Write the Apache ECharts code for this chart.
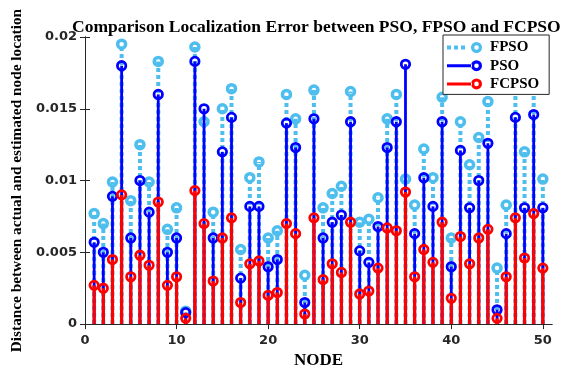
<!DOCTYPE html>
<html>
<head>
<meta charset="utf-8">
<script src="https://cdn.jsdelivr.net/npm/echarts@6/dist/echarts.min.js"></script>
<style>
  html, body { margin: 0; padding: 0; background: #fff; }
  #chart { width: 563px; height: 374px; }
</style>
</head>
<body>
<div id="chart"></div>
<script>
  // node index 1..50
  const nodes = [1, 2, 3, 4, 5, 6, 7, 8, 9, 10, 11, 12, 13, 14, 15, 16, 17, 18, 19, 20,
    21, 22, 23, 24, 25, 26, 27, 28, 29, 30, 31, 32, 33, 34, 35, 36, 37, 38, 39, 40,
    41, 42, 43, 44, 45, 46, 47, 48, 49, 50]

  const fpso = [0.0077, 0.0070, 0.0099, 0.0195, 0.0086, 0.0125, 0.0099, 0.0183, 0.0066, 0.0081,
    0.0009, 0.0193, 0.0141, 0.0078, 0.0150, 0.0164, 0.0052, 0.0102, 0.0113, 0.0060,
    0.0065, 0.0160, 0.0143, 0.0034, 0.0163, 0.0081, 0.0091, 0.0096, 0.0162, 0.0071,
    0.0073, 0.0088, 0.0143, 0.0160, 0.0101, 0.0083, 0.0122, 0.0102, 0.0158, 0.0060,
    0.0141, 0.0111, 0.0130, 0.0155, 0.0039, 0.0083, 0.0166, 0.0120, 0.0166, 0.0101]

  const pso = [0.0057, 0.0050, 0.0089, 0.0180, 0.0060, 0.0100, 0.0078, 0.0160, 0.0050, 0.0060,
    0.0008, 0.0183, 0.0150, 0.0060, 0.0120, 0.0144, 0.0032, 0.0082, 0.0082, 0.0040,
    0.0045, 0.0140, 0.0123, 0.0015, 0.0143, 0.0060, 0.0071, 0.0076, 0.0141, 0.0051,
    0.0043, 0.0068, 0.0123, 0.0141, 0.0181, 0.0063, 0.0102, 0.0082, 0.0141, 0.0040,
    0.0121, 0.0081, 0.0100, 0.0126, 0.0010, 0.0063, 0.0144, 0.0081, 0.0146, 0.0081]

  const fcpso = [0.0027, 0.0025, 0.0045, 0.0090, 0.0033, 0.0048, 0.0041, 0.0085, 0.0027, 0.0033,
    0.0004, 0.0093, 0.0070, 0.0030, 0.0060, 0.0074, 0.0015, 0.0042, 0.0044, 0.0020,
    0.0022, 0.0070, 0.0063, 0.0007, 0.0074, 0.0031, 0.0042, 0.0036, 0.0071, 0.0021,
    0.0023, 0.0039, 0.0067, 0.0065, 0.0092, 0.0033, 0.0052, 0.0043, 0.0071, 0.0018,
    0.0061, 0.0042, 0.0060, 0.0066, 0.0004, 0.0033, 0.0074, 0.0046, 0.0077, 0.0039]

  const xTicks = [0, 10, 20, 30, 40, 50]

  const chart = echarts.init(document.getElementById('chart'))

  const serif = 'Liberation Serif, Times New Roman, serif'
  const sans = 'DejaVu Sans, Arial, sans-serif'
  const axisColor = '#262626'

  // stem: line from 0 up to the value, ring on top
  function stem(color, lineWidth, dash, r, ringWidth) {
    return function (params, api) {
      const x = api.value(0)
      const top = api.coord([x, api.value(1)])
      const base = api.coord([x, 0])
      return {
        type: 'group',
        children: [
          {
            type: 'line',
            shape: { x1: base[0], y1: base[1], x2: top[0], y2: top[1] },
            style: { stroke: color, lineWidth: lineWidth, lineDash: dash }
          },
          {
            type: 'circle',
            shape: { cx: top[0], cy: top[1], r: r },
            style: { fill: 'none', stroke: color, lineWidth: ringWidth }
          }
        ]
      }
    }
  }

  function pairs(vals) {
    return nodes.map((n, i) => [n, vals[i]])
  }

  const ring = 'M24 5.5 A5.5 5.5 0 1 0 35 5.5 A5.5 5.5 0 1 0 24 5.5 Z M27.2 5.5 A2.3 2.3 0 1 1 31.8 5.5 A2.3 2.3 0 1 1 27.2 5.5 Z'
  const iconDotted = 'path://M0 3.5 h4 v4 h-4 Z M7 3.5 h4 v4 h-4 Z M14 3.5 h4 v4 h-4 Z ' + ring
  const iconSolid = 'path://M0 4 L25 4 L25 7 L0 7 Z ' + ring

  const option = {
    animation: false,
    title: {
      text: 'Comparison Localization Error between PSO, FPSO and FCPSO',
      left: 72,
      top: 18,
      padding: 0,
      textStyle: { fontFamily: serif, fontWeight: 'bold', fontSize: 17.5, color: '#000' }
    },
    legend: {
      orient: 'vertical',
      left: 443,
      top: 35,
      padding: [5, 10, 3, 4],
      itemGap: 3.2,
      itemWidth: 35,
      itemHeight: 11,
      borderColor: axisColor,
      borderWidth: 1,
      borderRadius: 0,
      backgroundColor: '#fff',
      itemStyle: { borderWidth: 0 },
      textStyle: { fontFamily: serif, fontWeight: 'bold', fontSize: 15, lineHeight: 14.5, color: '#000', padding: [0, 0, 0, 3] },
      data: [
        { name: 'FPSO', icon: iconDotted },
        { name: 'PSO', icon: iconSolid },
        { name: 'FCPSO', icon: iconSolid }
      ]
    },
    grid: { left: 85, right: 11, top: 37, bottom: 41 },
    xAxis: [
      {
        type: 'value',
        min: 0,
        max: 51,
        interval: 10,
        name: 'NODE',
        nameLocation: 'middle',
        nameGap: 26,
        nameTextStyle: { fontFamily: serif, fontWeight: 'bold', fontSize: 17, color: '#000' },
        axisLine: { show: true, lineStyle: { color: axisColor, width: 1 } },
        axisTick: { show: true, inside: true, length: 5, customValues: xTicks, lineStyle: { color: axisColor } },
        axisLabel: { customValues: xTicks, margin: 10, fontFamily: sans, fontWeight: 'bold', fontSize: 13, color: axisColor },
        splitLine: { show: false }
      },
      {
        type: 'value',
        position: 'top',
        min: 0,
        max: 51,
        interval: 10,
        axisLine: { show: true, lineStyle: { color: axisColor, width: 1 } },
        axisTick: { show: true, inside: true, length: 5, customValues: xTicks, lineStyle: { color: axisColor } },
        axisLabel: { show: false },
        splitLine: { show: false }
      }
    ],
    yAxis: [
      {
        type: 'value',
        min: 0,
        max: 0.02,
        interval: 0.005,
        name: 'Distance between actual and estimated node location',
        nameLocation: 'middle',
        nameGap: 55,
        nameTextStyle: { fontFamily: serif, fontWeight: 'bold', fontSize: 15.3, color: '#000' },
        axisLine: { show: true, lineStyle: { color: axisColor, width: 1 } },
        axisTick: { show: true, inside: true, length: 5, lineStyle: { color: axisColor } },
        axisLabel: { margin: 8, fontFamily: sans, fontWeight: 'bold', fontSize: 13, color: axisColor },
        splitLine: { show: false }
      },
      {
        type: 'value',
        position: 'right',
        min: 0,
        max: 0.02,
        interval: 0.005,
        axisLine: { show: true, lineStyle: { color: axisColor, width: 1 } },
        axisTick: { show: true, inside: true, length: 5, lineStyle: { color: axisColor } },
        axisLabel: { show: false },
        splitLine: { show: false }
      }
    ],
    series: [
      {
        name: 'FPSO',
        type: 'custom',
        itemStyle: { color: '#4DBEEE' },
        renderItem: stem('#4DBEEE', 4, [4, 3], 4, 3.5),
        encode: { x: 0, y: 1 },
        clip: true,
        data: pairs(fpso)
      },
      {
        name: 'PSO',
        type: 'custom',
        itemStyle: { color: '#0000FF' },
        renderItem: stem('#0000FF', 2.8, null, 4.2, 2.8),
        encode: { x: 0, y: 1 },
        clip: true,
        data: pairs(pso)
      },
      {
        name: 'FCPSO',
        type: 'custom',
        itemStyle: { color: '#FF0000' },
        renderItem: stem('#FF0000', 3.2, null, 4.2, 2.8),
        encode: { x: 0, y: 1 },
        clip: true,
        data: pairs(fcpso)
      }
    ]
  }

  chart.setOption(option)
</script>
</body>
</html>
